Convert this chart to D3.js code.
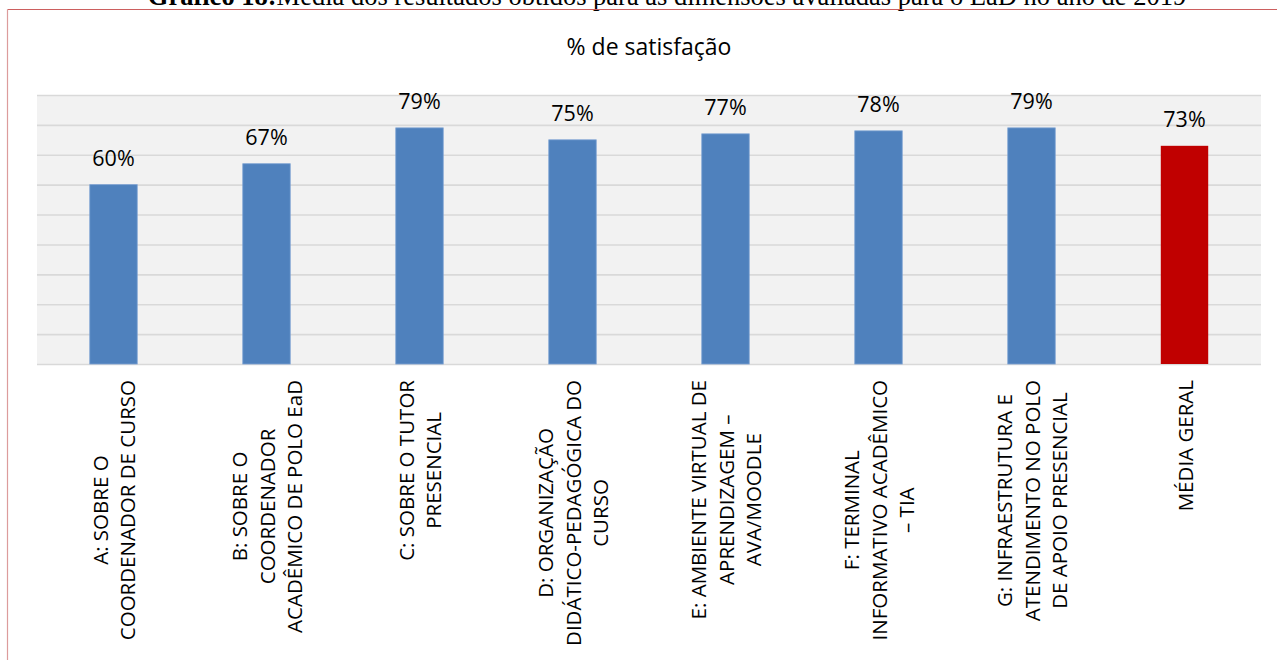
<!DOCTYPE html>
<html>
<head>
<meta charset="utf-8">
<script src="https://cdn.jsdelivr.net/npm/d3@7"></script>
<style>
  html, body { margin: 0; padding: 0; background: #fff; }
  svg { display: block; }
</style>
</head>
<body>
<svg id="chart" width="1277" height="660"></svg>
<script>
const categories = ["A", "B", "C", "D", "E", "F", "G", "MG"];
const labelLines = [
  ["A: SOBRE O", "COORDENADOR DE CURSO"],
  ["B: SOBRE O", "COORDENADOR", "ACADÊMICO DE POLO EaD"],
  ["C: SOBRE O TUTOR", "PRESENCIAL"],
  ["D: ORGANIZAÇÃO", "DIDÁTICO-PEDAGÓGICA DO", "CURSO"],
  ["E: AMBIENTE VIRTUAL DE", "APRENDIZAGEM –", "AVA/MOODLE"],
  ["F: TERMINAL", "INFORMATIVO ACADÊMICO", "– TIA"],
  ["G: INFRAESTRUTURA E", "ATENDIMENTO NO POLO", "DE APOIO PRESENCIAL"],
  ["MÉDIA GERAL"]
];
const values = [60, 67, 79, 75, 77, 78, 79, 73];
const barColors = ["#4f81bd", "#4f81bd", "#4f81bd", "#4f81bd", "#4f81bd", "#4f81bd", "#4f81bd", "#c00000"];
const gridTicks = [0, 10, 20, 30, 40, 50, 60, 70, 80, 90];
const chartTitle = "% de satisfação";
const captionBold = "Gráfico 18:";
const captionRest = "Média dos resultados obtidos para as dimensões avaliadas para o EaD no ano de 2019";

const svg = d3.select("#chart");
const font = "'Open Sans', 'Noto Sans', sans-serif";

const plot = { left: 37, right: 1261, top: 95, bottom: 364 };

const x = d3.scaleBand().domain(categories).range([plot.left, plot.right]).paddingInner(0.69).paddingOuter(0.345);
const y = d3.scaleLinear().domain([0, 90]).range([plot.bottom, plot.top]);

// caption (cut off at the top, as in the source page)
const cap = svg.append("text")
  .attr("x", 667).attr("y", 5)
  .attr("text-anchor", "middle")
  .attr("font-family", "'Liberation Serif', 'Times New Roman', serif")
  .attr("font-size", 26.5)
  .attr("fill", "#000");
cap.append("tspan").attr("font-weight", "bold").text(captionBold);
cap.append("tspan").text(captionRest);

// border box
svg.append("line").attr("x1", 7.5).attr("x2", 1277).attr("y1", 9.5).attr("y2", 9.5)
  .attr("stroke", "#cc5f5f").attr("stroke-width", 1.2);
svg.append("line").attr("x1", 7.5).attr("x2", 7.5).attr("y1", 9.5).attr("y2", 660)
  .attr("stroke", "#dc9c9c").attr("stroke-width", 1.2);

// plot background
svg.append("rect")
  .attr("x", plot.left).attr("y", plot.top)
  .attr("width", plot.right - plot.left).attr("height", plot.bottom - plot.top)
  .attr("fill", "#f2f2f2");

// gridlines via axis
const gridAxis = d3.axisLeft(y).tickValues(gridTicks).tickSize(-(plot.right - plot.left)).tickFormat("");
const g = svg.append("g").attr("transform", `translate(${plot.left},0)`).call(gridAxis);
g.select(".domain").remove();
g.selectAll(".tick line").attr("stroke", "#d9d9d9").attr("stroke-width", 1.6);

// chart title
svg.append("text")
  .attr("x", 649).attr("y", 55)
  .attr("text-anchor", "middle")
  .attr("font-family", font)
  .attr("font-size", 23)
  .attr("fill", "#000")
  .text(chartTitle);

// bars
svg.append("g").selectAll("rect")
  .data(values)
  .join("rect")
  .attr("x", (d, i) => x(categories[i]))
  .attr("y", d => y(d))
  .attr("width", x.bandwidth())
  .attr("height", d => y(0) - y(d))
  .attr("fill", (d, i) => barColors[i])
  .attr("stroke", (d, i) => i < 7 ? "#7aa0d2" : "none")
  .attr("stroke-width", 0.8);

// data labels
svg.append("g").selectAll("text")
  .data(values)
  .join("text")
  .attr("x", (d, i) => x(categories[i]) + x.bandwidth() / 2)
  .attr("y", d => y(d) - 19)
  .attr("text-anchor", "middle")
  .attr("font-family", font)
  .attr("font-size", 21.5)
  .attr("fill", "#000")
  .text(d => d + "%");

// category labels (rotated)
const lineH = 27.5;
const labelTop = 380;
const lg = svg.append("g");
labelLines.forEach((lines, i) => {
  const cx = x(categories[i]) + x.bandwidth() / 2;
  const grp = lg.append("g");
  const texts = lines.map((ln, j) => {
    const off = (j - (lines.length - 1) / 2) * lineH;
    return grp.append("text")
      .attr("font-family", font)
      .attr("font-size", 20.5)
      .attr("fill", "#000")
      .attr("text-anchor", "middle")
      .attr("dominant-baseline", "central")
      .attr("data-off", off)
      .text(ln);
  });
  const maxLen = d3.max(texts, t => t.node().getComputedTextLength());
  const cy = labelTop + maxLen / 2;
  texts.forEach(t => {
    const off = +t.attr("data-off");
    t.attr("transform", `translate(${cx + off},${cy}) rotate(-90)`);
  });
});
</script>
</body>
</html>
